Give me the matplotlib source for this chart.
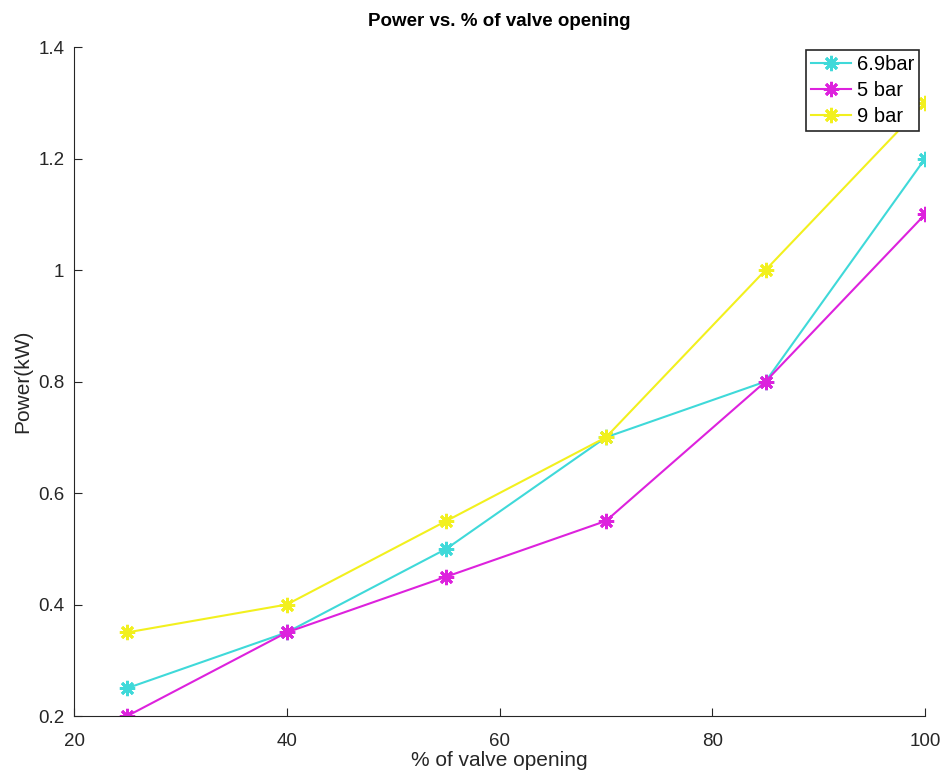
import matplotlib.pyplot as plt
import numpy as np

plt.rcParams['font.family'] = ['Liberation Sans', 'DejaVu Sans']

opening = [25, 40, 55, 70, 85, 100]
p_69bar = [0.25, 0.35, 0.5, 0.7, 0.8, 1.2]
p_5bar = [0.2, 0.35, 0.45, 0.55, 0.8, 1.1]
p_9bar = [0.35, 0.4, 0.55, 0.7, 1.0, 1.3]

fig = plt.figure(figsize=(9.43, 7.72), dpi=100)
ax = fig.add_axes([0.0785, 0.0725, 0.9025, 0.8665])

# asterisk marker: 8 spokes
star = (8, 2, 0)
ax.plot(opening, p_69bar, color='#3fd9d9', marker=star, markersize=11, mew=2, lw=1.5, label='6.9bar')
ax.plot(opening, p_5bar, color='#dd22dd', marker=star, markersize=11, mew=2, lw=1.5, label='5 bar')
ax.plot(opening, p_9bar, color='#f2f01e', marker=star, markersize=11, mew=2, lw=1.5, label='9 bar')

ax.set_xlim(20, 100)
ax.set_ylim(0.2, 1.4)
ax.set_xticks([20, 40, 60, 80, 100])
ax.set_yticks([0.2, 0.4, 0.6, 0.8, 1.0, 1.2, 1.4])
ax.set_yticklabels(['0.2', '0.4', '0.6', '0.8', '1', '1.2', '1.4'])
ax.spines['top'].set_visible(False)
ax.spines['right'].set_visible(False)
for s in ('left', 'bottom'):
    ax.spines[s].set_color('#262626')
ax.tick_params(direction='in', labelsize=13.5, colors='#262626', length=6)
ax.tick_params(axis='x', pad=12)
ax.tick_params(axis='y', pad=7)

ax.set_xlabel('% of valve opening', fontsize=15, color='#262626', labelpad=1)
ax.set_ylabel('Power(kW)', fontsize=15, color='#262626', labelpad=4)
ax.set_title('Power vs. % of valve opening', fontsize=13.5, fontweight='bold', pad=15)

leg = ax.legend(loc='upper right', bbox_to_anchor=(0.993, 0.996), fontsize=14.5,
                fancybox=False, framealpha=1, edgecolor='#262626',
                borderpad=0.25, labelspacing=0.35, handlelength=1.95, handletextpad=0.3,
                borderaxespad=0)
leg.get_frame().set_linewidth(1.2)

fig.savefig('out.png', dpi=100)
